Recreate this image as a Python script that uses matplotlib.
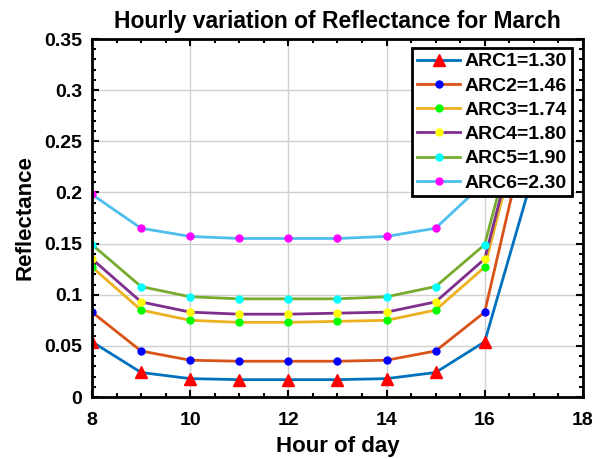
import numpy as np
import matplotlib
matplotlib.use('Agg')
import matplotlib.pyplot as plt
from matplotlib.ticker import MultipleLocator

plt.rcParams['font.family'] = ['Liberation Sans', 'DejaVu Sans']
plt.rcParams['font.weight'] = 'bold'

hours = [8, 9, 10, 11, 12, 13, 14, 15, 16, 17]
arc1 = [0.054, 0.024, 0.018, 0.017, 0.017, 0.017, 0.018, 0.024, 0.054, 0.220]
arc2 = [0.083, 0.045, 0.036, 0.035, 0.035, 0.035, 0.036, 0.045, 0.083, 0.290]
arc3 = [0.127, 0.085, 0.075, 0.073, 0.073, 0.074, 0.075, 0.085, 0.127, 0.315]
arc4 = [0.135, 0.093, 0.083, 0.081, 0.081, 0.082, 0.083, 0.093, 0.135, 0.322]
arc5 = [0.149, 0.108, 0.098, 0.096, 0.096, 0.096, 0.098, 0.108, 0.149, 0.330]
arc6 = [0.198, 0.165, 0.157, 0.155, 0.155, 0.155, 0.157, 0.165, 0.210, 0.335]
labels = ['ARC1=1.30', 'ARC2=1.46', 'ARC3=1.74', 'ARC4=1.80', 'ARC5=1.90', 'ARC6=2.30']

series = [arc1, arc2, arc3, arc4, arc5, arc6]
line_colors = ['#0072BD', '#D95319', '#EDB120', '#7E2F8E', '#77AC30', '#4DBEEE']
mk_colors = ['red', 'blue', '#00ff00', 'yellow', 'cyan', 'magenta']

fig = plt.figure(figsize=(6.06, 4.59), dpi=100)
ax = fig.add_axes([0.1518, 0.135, 0.810, 0.780])

for y, lab, lc, mc in zip(series, labels, line_colors, mk_colors):
    if mc == 'red':
        ax.plot(hours, y, '-^', color=lc, lw=2, ms=8, mfc=mc, mec=mc, label=lab)
    else:
        ax.plot(hours, y, '-o', color=lc, lw=2, ms=5, mfc=mc, mec=mc, label=lab)

ax.set_xlim(8, 18)
ax.set_ylim(0, 0.35)
ax.xaxis.set_major_locator(MultipleLocator(2))
ax.xaxis.set_minor_locator(MultipleLocator(0.5))
ax.yaxis.set_minor_locator(MultipleLocator(0.01))
ax.set_yticks(np.arange(0, 0.351, 0.05))
ax.set_yticklabels(['0', '0.05', '0.1', '0.15', '0.2', '0.25', '0.3', '0.35'])
ax.tick_params(which='both', direction='in', top=True, right=True, labelsize=14, width=1.5)
ax.tick_params(which='major', length=5)
ax.tick_params(which='minor', length=3)
ax.tick_params(axis='x', which='major', pad=11)
ax.tick_params(axis='y', which='major', pad=7)
ax.grid(True, which='major', color='#d0d0d0', lw=1)
for s in ax.spines.values():
    s.set_linewidth(2)

ax.set_title('Hourly variation of Reflectance for March', fontsize=16.5, fontweight='bold', pad=8)
ax.set_xlabel('Hour of day', fontsize=16, fontweight='bold', labelpad=5)
ax.set_ylabel('Reflectance', fontsize=16, fontweight='bold', labelpad=6)

leg = ax.legend(loc='upper right', bbox_to_anchor=(0.978, 0.975), borderaxespad=0,
                fontsize=14, frameon=True, fancybox=False, framealpha=1,
                edgecolor='black', borderpad=0.25, labelspacing=0.34,
                handlelength=2.2, handletextpad=0.25)
leg.get_frame().set_linewidth(2)

fig.savefig('out.png', dpi=100)
